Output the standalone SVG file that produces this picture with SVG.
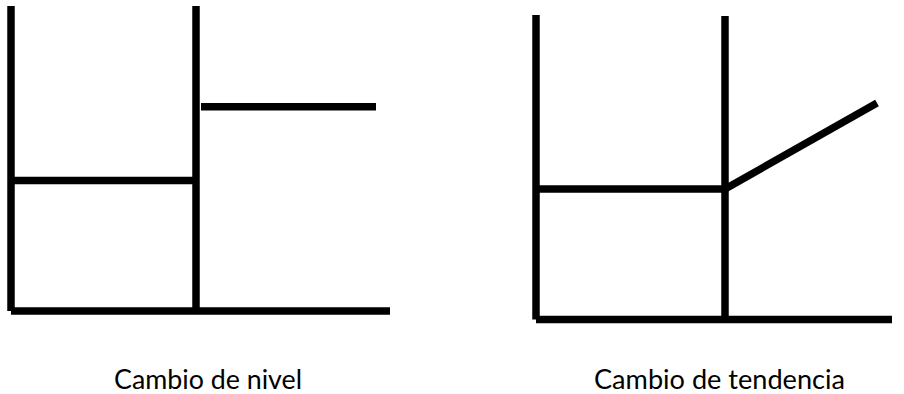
<svg xmlns="http://www.w3.org/2000/svg" width="904" height="394" viewBox="0 0 904 394">
  <style>
    .ln { stroke: #000; stroke-width: 7.5; fill: none; stroke-linecap: butt; }
    .lbl { font-family: Lato, "Open Sans", "Liberation Sans", sans-serif; font-size: 26px; fill: #000; }
  </style>
  <rect width="904" height="394" fill="#fff"/>

  <!-- Level change chart -->
  <g id="nivel">
    <line class="ln" x1="11" y1="6" x2="11" y2="311"/>
    <line class="ln" x1="196" y1="6" x2="196" y2="311"/>
    <line class="ln" x1="11" y1="180.5" x2="196" y2="180.5"/>
    <line class="ln" x1="201" y1="106.7" x2="376" y2="106.7"/>
    <line class="ln" x1="11" y1="311" x2="390" y2="311"/>
    <text class="lbl" x="114" y="389" textLength="188" lengthAdjust="spacingAndGlyphs">Cambio de nivel</text>
  </g>

  <!-- Trend change chart -->
  <g id="tendencia">
    <line class="ln" x1="536" y1="15" x2="536" y2="319.5"/>
    <line class="ln" x1="725" y1="16" x2="725" y2="319.5"/>
    <line class="ln" x1="536" y1="189" x2="725" y2="189"/>
    <line class="ln" x1="725" y1="189" x2="877" y2="103"/>
    <line class="ln" x1="536" y1="319.5" x2="892" y2="319.5"/>
    <text class="lbl" x="594" y="389" textLength="251" lengthAdjust="spacingAndGlyphs">Cambio de tendencia</text>
  </g>
</svg>
